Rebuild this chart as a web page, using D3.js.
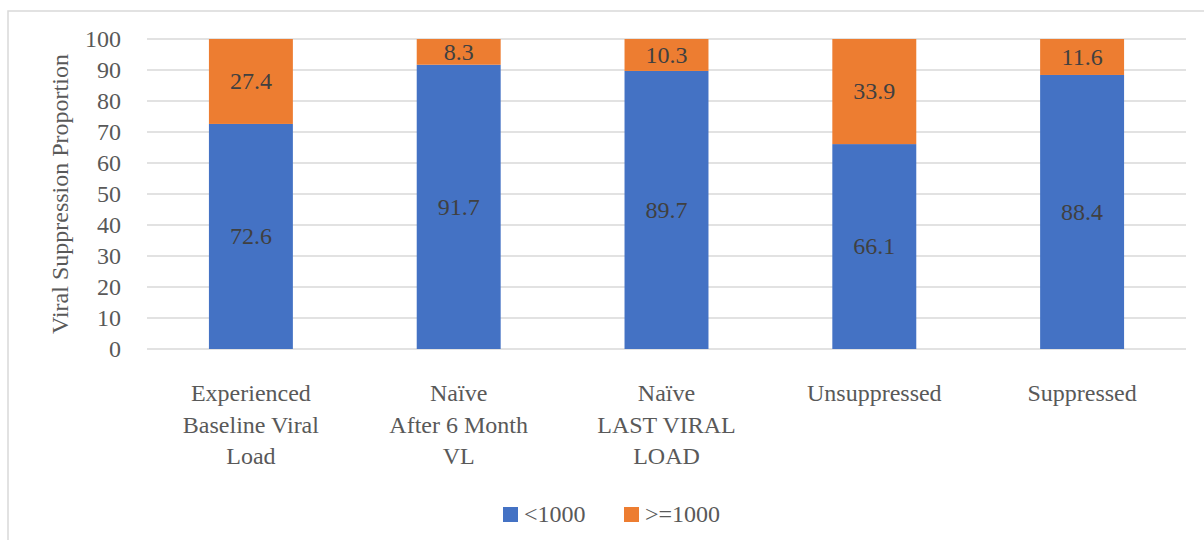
<!DOCTYPE html>
<html><head><meta charset="utf-8">
<script src="https://cdn.jsdelivr.net/npm/d3@7"></script>
<style>body{margin:0;background:#fff;} #chart, #chart text{font-family:'Liberation Serif' !important;}</style>
</head><body>
<svg id="chart" width="1204" height="540" font-family="Liberation Serif"></svg>
<script>
const categories = [["Experienced","Baseline Viral","Load"],["Naïve","After 6 Month","VL"],["Naïve","LAST VIRAL","LOAD"],["Unsuppressed"],["Suppressed"]];
const below1000 = [72.6, 91.7, 89.7, 66.1, 88.4];
const above1000 = [27.4, 8.3, 10.3, 33.9, 11.6];
const seriesNames = ["<1000", ">=1000"];
const colors = ["#4472C4", "#ED7D31"];
const yTicks = [0,10,20,30,40,50,60,70,80,90,100];

(function(){
const FF = "Liberation Serif";
const FS = "24px";
const svg = d3.select("#chart");
svg.append("rect").attr("x",8).attr("y",11).attr("width",1210).attr("height",560)
  .attr("fill","#fff").attr("stroke","#d9d9d9").attr("stroke-width",1.5);

const pL=147, pR=1186, pT=39, pB=349;
const x = d3.scaleBand().domain(d3.range(categories.length)).range([pL,pR]).paddingInner(0.596).paddingOuter(0.298);
const y = d3.scaleLinear().domain([0,100]).range([pB,pT]);

svg.append("g").selectAll("line").data(yTicks).join("line")
  .attr("x1",pL).attr("x2",pR).attr("y1",d=>y(d)).attr("y2",d=>y(d))
  .attr("stroke","#d9d9d9").attr("stroke-width",1.5);

const yAxis = d3.axisLeft(y).tickValues(yTicks).tickSize(0).tickPadding(0);
const ya = svg.append("g").attr("transform",`translate(121,0)`).call(yAxis);
ya.attr("font-family",FF).attr("font-size",FS);
ya.select(".domain").remove();
ya.selectAll("text").attr("fill","#595959").attr("dy","0.33em").attr("font-family",FF).attr("font-size",FS);

categories.forEach((c,i)=>{
  let base=0;
  [below1000[i], above1000[i]].forEach((v,s)=>{
    svg.append("rect").attr("x",x(i)).attr("width",x.bandwidth())
      .attr("y",y(base+v)).attr("height",y(base)-y(base+v)).attr("fill",colors[s]);
    svg.append("text").attr("x",x(i)+x.bandwidth()/2).attr("y",y(base+v/2))
      .attr("dy","0.33em").attr("text-anchor","middle").attr("fill","#404040")
      .attr("font-size",FS).attr("font-family",FF).text(v.toFixed(1));
    base+=v;
  });
});

categories.forEach((lines,i)=>{
  const t = svg.append("text").attr("text-anchor","middle").attr("fill","#595959")
    .attr("font-size",FS).attr("font-family",FF)
    .attr("x",x(i)+x.bandwidth()/2).attr("y",401);
  lines.forEach((l,k)=>t.append("tspan").attr("x",x(i)+x.bandwidth()/2).attr("dy",k===0?0:31.5).text(l));
});

svg.append("text").attr("transform",`translate(68,${(pT+pB)/2}) rotate(-90)`)
  .attr("text-anchor","middle").attr("fill","#595959").attr("font-size",FS).attr("font-family",FF)
  .text("Viral Suppression Proportion");

const legX=[503,624];
seriesNames.forEach((n,s)=>{
  svg.append("rect").attr("x",legX[s]).attr("y",507).attr("width",15).attr("height",15).attr("fill",colors[s]);
  svg.append("text").attr("x",legX[s]+21).attr("y",522).attr("fill","#595959")
    .attr("font-size",FS).attr("font-family",FF).text(n);
});
})();
</script>
</body></html>
